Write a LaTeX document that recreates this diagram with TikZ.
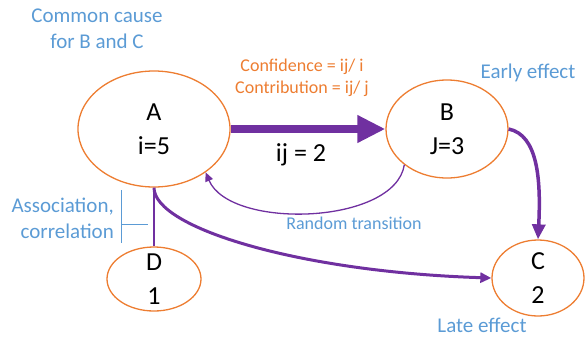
\documentclass[tikz,border=0pt]{standalone}
\usepackage{fontspec}
\setmainfont{Carlito}
\usetikzlibrary{shapes.geometric,arrows.meta}
\definecolor{nodeorange}{RGB}{237,125,49}
\definecolor{noteblue}{RGB}{91,155,213}
\definecolor{linkpurple}{RGB}{112,48,160}

\begin{document}
\begin{tikzpicture}[
  x=1pt, y=-1pt,
  every node/.style={inner sep=0pt},
  state/.style={ellipse, draw=nodeorange, line width=1.3pt, inner sep=0pt},
  val/.style={align=center, font=\fontsize{26}{34}\selectfont},
  note/.style={text=noteblue, align=center, font=\fontsize{21}{26}\selectfont},
  conf/.style={text=nodeorange, align=center, font=\fontsize{18}{22}\selectfont},
  bigarrow/.style={draw=linkpurple, line width=8pt, -{Triangle[length=28pt,width=26pt]}},
  curvearrow/.style={draw=linkpurple, line width=3.5pt, -{Triangle[length=15pt,width=13pt]}},
  longarrow/.style={draw=linkpurple, line width=3pt, -{Triangle[length=11pt,width=10pt]}},
  thinarrow/.style={draw=linkpurple, line width=1.3pt, -{Triangle[length=9pt,width=8pt]}},
  assoc/.style={draw=linkpurple, line width=2pt},
  bracket/.style={draw=noteblue, line width=1pt}]

  \useasboundingbox (0,0) rectangle (587,338);

  % ---- states -------------------------------------------------------------
  \node[state, minimum width=152pt, minimum height=116pt] (A) at (154,129) {};
  \node[state, minimum width=122pt, minimum height=98pt]  (B) at (447,129) {};
  \node[state, minimum width=94pt,  minimum height=64pt]  (D) at (154,279) {};
  \node[state, minimum width=92pt,  minimum height=76pt]  (C) at (538,278) {};

  \node[val] (Atext) at (A) {A\\i=5};
  \node[val] (Btext) at (B) {B\\J=3};
  \node[val] (Dtext) at (D) {D\\1};
  \node[val] (Ctext) at (C) {C\\2};

  % ---- labels -------------------------------------------------------------
  \node[note] (cause) at (97,29) {Common cause\\for B and C};
  \node[conf] (conf) at (302,78) {Confidence = ij/ i\\Contribution = ij/ j};
  \node[val] (ij) at (301,155) {ij = 2};
  \node[note] (early) at (528,73) {Early effect};
  \node[note, font=\fontsize{18}{22}\selectfont] (random) at (354,223) {Random transition};
  \node[note, align=right, anchor=east] (assocnote) at (114,218) {Association,\\correlation};
  \node[note] (late) at (482,325) {Late effect};

  % ---- links --------------------------------------------------------------
  \draw[bigarrow] (A) -- (B);
  \draw[curvearrow] (B.east) .. controls (538,135) and (541,180) .. (C.north);
  \draw[longarrow] (A.south) .. controls (154,228) and (300,272) .. (C.west);
  \draw[thinarrow] (B.220) .. controls (395,225) and (230,230) .. (A.-40);
  \draw[assoc] (A.south) -- (D.north);

  % association bracket
  \coordinate (brtop) at (121,190);
  \coordinate (brbot) at (121,243);
  \coordinate (brmid) at (121,224);
  \coordinate (brtip) at (148,224);
  \draw[bracket] (brtop) -- (brbot) (brmid) -- (brtip);
\end{tikzpicture}
\end{document}
